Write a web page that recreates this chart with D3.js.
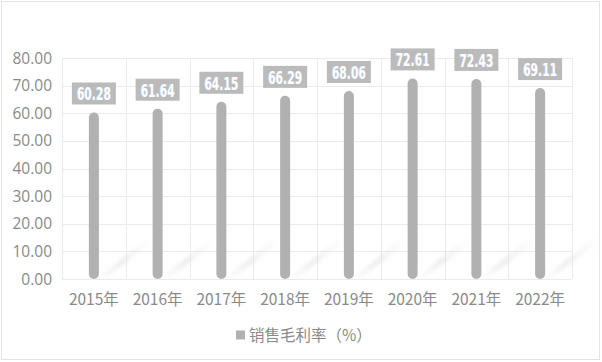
<!DOCTYPE html>
<html>
<head>
<meta charset="utf-8">
<script src="https://cdn.jsdelivr.net/npm/d3@7"></script>
<style>
  body { margin: 0; background: #fff; }
  svg { display: block; }
</style>
</head>
<body>
<div id="chart"></div>
<script>
// data
const years = ["2015年", "2016年", "2017年", "2018年", "2019年", "2020年", "2021年", "2022年"];
const margins = [60.28, 61.64, 64.15, 66.29, 68.06, 72.61, 72.43, 69.11];
const yTicks = [0, 10, 20, 30, 40, 50, 60, 70, 80];
const seriesName = "销售毛利率（%）";

const W = 602, H = 362;
const plot = { left: 62, right: 572, top: 58, bottom: 279 };

const svg = d3.select("#chart").append("svg")
    .attr("width", W)
    .attr("height", H);

// outer frame
svg.append("rect")
    .attr("x", 1.5).attr("y", 1.5)
    .attr("width", W - 4).attr("height", H - 4)
    .attr("fill", "#fff")
    .attr("stroke", "#e3e3e3");

const x = d3.scaleBand()
    .domain(years)
    .range([plot.left, plot.right]);

const y = d3.scaleLinear()
    .domain([0, 80])
    .range([plot.bottom, plot.top]);

// grid
const grid = svg.append("g").attr("stroke", "#ebebeb").attr("stroke-width", 1);
grid.selectAll("line.h")
    .data(yTicks)
    .enter().append("line")
    .attr("x1", plot.left).attr("x2", plot.right)
    .attr("y1", d => Math.round(y(d)) + 0.5)
    .attr("y2", d => Math.round(y(d)) + 0.5);

const vLines = years.map(d => x(d)).concat([plot.right]);
grid.selectAll("line.v")
    .data(vLines)
    .enter().append("line")
    .attr("x1", d => Math.round(d) + 0.5).attr("x2", d => Math.round(d) + 0.5)
    .attr("y1", plot.top).attr("y2", plot.bottom);

// faint diagonal reflections at the foot of the bars
const defs = svg.append("defs");
const grad = defs.append("linearGradient")
    .attr("id", "streak")
    .attr("x1", "0%").attr("y1", "0%").attr("x2", "100%").attr("y2", "0%");
grad.append("stop").attr("offset", "0%").attr("stop-color", "#dedede").attr("stop-opacity", 0.0);
grad.append("stop").attr("offset", "45%").attr("stop-color", "#d8d8d8").attr("stop-opacity", 0.85);
grad.append("stop").attr("offset", "100%").attr("stop-color", "#e8e8e8").attr("stop-opacity", 0.0);
defs.append("filter").attr("id", "soft")
    .append("feGaussianBlur").attr("stdDeviation", 2);

svg.append("g")
    .selectAll("path")
    .data(years)
    .enter().append("path")
    .attr("d", d => {
        const cx = x(d) + x.bandwidth() / 2;
        const b = plot.bottom;
        return `M${cx + 2},${b} L${cx + 56},${b - 42} L${cx + 60},${b - 38} L${cx + 10},${b} Z`;
    })
    .attr("fill", "url(#streak)")
    .attr("opacity", 0.6)
    .attr("filter", "url(#soft)");

// bars (rounded ends)
const barW = 10;
svg.append("g")
    .selectAll("rect")
    .data(margins)
    .enter().append("rect")
    .attr("x", (d, i) => x(years[i]) + x.bandwidth() / 2 - barW / 2)
    .attr("y", d => y(d))
    .attr("width", barW)
    .attr("height", d => y(0) - y(d))
    .attr("rx", barW / 2)
    .attr("fill", "#b1b1b1");

// value labels
const lab = svg.append("g")
    .selectAll("g")
    .data(margins)
    .enter().append("g")
    .attr("transform", (d, i) => `translate(${x(years[i]) + x.bandwidth() / 2},${y(d) - 8})`);

lab.append("rect")
    .attr("x", -22).attr("y", -22)
    .attr("width", 44).attr("height", 22)
    .attr("fill", "#bbbbbb");

lab.append("text")
    .attr("x", -17).attr("y", -4)
    .attr("font-family", "'DejaVu Sans', sans-serif")
    .attr("font-weight", "bold")
    .attr("font-size", 18.5)
    .attr("textLength", 34)
    .attr("lengthAdjust", "spacingAndGlyphs")
    .attr("fill", "#fff")
    .style("text-shadow", "-1px 0 0 #bcd0ee")
    .text(d => d.toFixed(2));

// y axis labels
svg.append("g")
    .selectAll("text")
    .data(yTicks)
    .enter().append("text")
    .attr("x", 52)
    .attr("y", d => y(d) + 5.5)
    .attr("text-anchor", "end")
    .attr("font-family", "'Open Sans', 'Noto Sans', sans-serif")
    .attr("font-size", 15.5)
    .attr("fill", "#8a8a8a")
    .text(d => d.toFixed(2));

// x axis labels
svg.append("g")
    .selectAll("text")
    .data(years)
    .enter().append("text")
    .attr("x", d => x(d) + x.bandwidth() / 2)
    .attr("y", 305)
    .attr("text-anchor", "middle")
    .attr("font-family", "'Noto Sans CJK SC', sans-serif")
    .attr("font-size", 15.5)
    .attr("fill", "#8a8a8a")
    .text(d => d);

// legend
const legend = svg.append("g").attr("transform", "translate(236,335)");
legend.append("rect")
    .attr("x", 0).attr("y", -4.5)
    .attr("width", 9).attr("height", 9)
    .attr("fill", "#b1b1b1");
legend.append("text")
    .attr("x", 13).attr("y", 5.5)
    .attr("font-family", "'Noto Sans CJK SC', sans-serif")
    .attr("font-size", 15.5)
    .attr("fill", "#8a8a8a")
    .text(seriesName);
</script>
</body>
</html>
